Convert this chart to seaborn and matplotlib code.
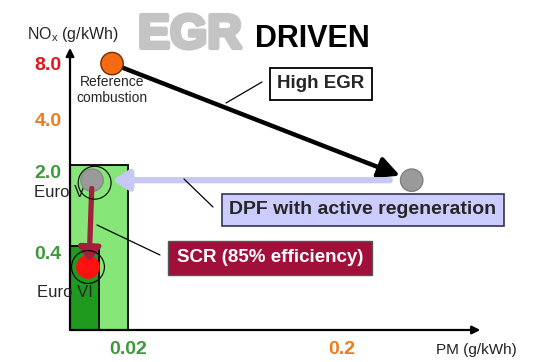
import numpy as np
import pandas as pd
import matplotlib
matplotlib.use("Agg")
import matplotlib.pyplot as plt
import matplotlib.patheffects as pe
from matplotlib.patches import Rectangle
import seaborn as sns

# --- schematic axis knots (value -> position on the sketch) ---
PM_KNOTS = [-0.0241, 0.0, 0.02, 0.2, 0.4]
PM_POS = [0, 70, 128, 342, 550]
NOX_KNOTS = [-0.152, 0.0, 0.4, 2.0, 4.0, 8.0, 12.56]
NOX_POS = [0, 32, 116, 197, 240, 297, 362]

# --- tick labels ---
nox_ticks = [8.0, 4.0, 2.0, 0.4]
nox_tick_labels = ["8.0", "4.0", "2.0", "0.4"]
nox_tick_colors = ["#e8141c", "#ee7a1e", "#3c9a3c", "#3c9a3c"]
pm_ticks = [0.02, 0.2]
pm_tick_labels = ["0.02", "0.2"]
pm_tick_colors = ["#3c9a3c", "#ee7a1e"]

# --- emission points ---
point_names = ["Reference", "High EGR", "Euro V", "Euro VI"]
point_pm = [0.0145, 0.267, 0.0076, 0.0062]
point_nox = [8.1, 1.7, 1.7, 0.3]
point_colors = ["#f26a12", "#9a9a9a", "#9a9a9a", "#ff1010"]
point_edges = ["#7a2a00", "#808080", "#8a8a8a", "#ff1010"]

# --- emission limit boxes (PM limit, NOx limit) ---
limit_names = ["Euro V", "Euro VI"]
limit_pm = [0.02, 0.01]
limit_nox = [2.0, 0.4]
limit_colors = ["#86e678", "#1f9a1f"]

# axis extent
pm_axis_end = 0.333
nox_axis_end = 9.2

df = pd.DataFrame({"name": point_names, "PM": point_pm, "NOx": point_nox})


def fwd_x(v):
    return np.interp(v, PM_KNOTS, PM_POS)


def inv_x(p):
    return np.interp(p, PM_POS, PM_KNOTS)


def fwd_y(v):
    return np.interp(v, NOX_KNOTS, NOX_POS)


def inv_y(p):
    return np.interp(p, NOX_POS, NOX_KNOTS)


sns.set_style("white")
plt.rcParams["font.family"] = ["Liberation Sans", "DejaVu Sans"]
plt.rcParams["mathtext.fontset"] = "custom"
plt.rcParams["mathtext.rm"] = "Liberation Sans"

fig = plt.figure(figsize=(5.5, 3.62), dpi=100)
ax = fig.add_axes([0, 0, 1, 1])
ax.set_xscale("function", functions=(fwd_x, inv_x))
ax.set_yscale("function", functions=(fwd_y, inv_y))
ax.set_xlim(PM_KNOTS[0], PM_KNOTS[-1])
ax.set_ylim(NOX_KNOTS[0], NOX_KNOTS[-1])
ax.axis("off")

# limit boxes
for pm, nox, col in zip(limit_pm, limit_nox, limit_colors):
    ax.add_patch(Rectangle((0, 0), pm, nox, facecolor=col, edgecolor="black",
                           linewidth=1.3, zorder=1))

# axes arrows
ax.annotate("", xy=(0, nox_axis_end), xytext=(0, 0),
            arrowprops=dict(arrowstyle="-|>", color="black", lw=1.6,
                            mutation_scale=12, shrinkA=0, shrinkB=0), zorder=2)
ax.annotate("", xy=(pm_axis_end, 0), xytext=(0, 0),
            arrowprops=dict(arrowstyle="-|>", color="black", lw=1.6,
                            mutation_scale=12, shrinkA=0, shrinkB=0), zorder=2)

# High EGR path
ax.annotate("", xy=(point_pm[1], point_nox[1]), xytext=(point_pm[0], point_nox[0]),
            arrowprops=dict(arrowstyle="-|>,head_length=0.9,head_width=0.45",
                            color="black", lw=3.2, mutation_scale=14,
                            shrinkA=0, shrinkB=9), zorder=3)
# DPF path
ax.annotate("", xy=(point_pm[2] + 0.0069, point_nox[2]), xytext=(0.246, point_nox[1]),
            arrowprops=dict(arrowstyle="-|>,head_length=0.8,head_width=0.5",
                            color="#c8c8f4", lw=4.5, mutation_scale=12,
                            shrinkA=0, shrinkB=0), zorder=3)

# points
sns.scatterplot(data=df, x="PM", y="NOx", hue="name", palette=point_colors,
                s=260, edgecolor=point_edges, linewidth=1.0, legend=False,
                ax=ax, zorder=5)

# SCR path
ax.annotate("", xy=(0.0066, 0.325), xytext=(point_pm[2], point_nox[2]),
            arrowprops=dict(arrowstyle="-|>,head_length=0.7,head_width=0.55",
                            color="#a3203c", lw=3.8, mutation_scale=12,
                            shrinkA=6, shrinkB=0), zorder=6)

# rings around the Euro limits
ax.scatter([0.0085, point_pm[3]], [1.65, point_nox[3]], s=560,
           facecolors="none", edgecolors="black", linewidths=0.8, zorder=6)

# tick labels
for v, lab, col in zip(nox_ticks, nox_tick_labels, nox_tick_colors):
    va = "center" if v >= 4.0 else "top"
    ax.text(48 / 550, v, lab, transform=ax.get_yaxis_transform(), color=col,
            fontsize=14, fontweight="bold", ha="center", va=va)
for v, lab, col in zip(pm_ticks, pm_tick_labels, pm_tick_colors):
    ax.text(v, 12 / 362, lab, transform=ax.get_xaxis_transform(), color=col,
            fontsize=14, fontweight="bold", ha="center", va="center")

# axis titles
ax.text(27 / 550, 1 - 39 / 362, r"NO$_\mathrm{x}$ (g/kWh)", transform=ax.transAxes,
        fontsize=11.5, ha="left", va="baseline")
ax.text(476 / 550, 1 - 350 / 362, "PM (g/kWh)", transform=ax.transAxes,
        fontsize=11, ha="center", va="center", color="#222222")

# title
ax.text(138 / 550, 1 - 48 / 362, "EGR", transform=ax.transAxes, fontsize=34.5,
        fontweight="bold", color="#c4c4c4", ha="left", va="baseline",
        path_effects=[pe.withStroke(linewidth=3, foreground="#c4c4c4")])
ax.text(255 / 550, 1 - 47 / 362, "DRIVEN", transform=ax.transAxes, fontsize=22,
        fontweight="bold", color="black", ha="left", va="baseline")

# annotations
ax.text(112 / 550, 1 - 90 / 362, "Reference\ncombustion", transform=ax.transAxes,
        fontsize=10, ha="center", va="center", linespacing=1.1)
ax.text(34 / 550, 1 - 197 / 362, "Euro V", transform=ax.transAxes,
        fontsize=12, ha="left", va="baseline", zorder=4)
ax.text(37 / 550, 1 - 297 / 362, "Euro VI", transform=ax.transAxes,
        fontsize=12, ha="left", va="baseline", zorder=4)

ax.text(321 / 550, 1 - 84 / 362, "High EGR", transform=ax.transAxes,
        fontsize=13.5, fontweight="bold", ha="center", va="center", zorder=7,
        bbox=dict(boxstyle="square,pad=0.4", facecolor="white",
                  edgecolor="black", linewidth=1.3))
ax.text(363 / 550, 1 - 210 / 362, "DPF with active regeneration",
        transform=ax.transAxes, fontsize=14, fontweight="bold", ha="center",
        va="center", zorder=7,
        bbox=dict(boxstyle="square,pad=0.4", facecolor="#ccccff",
                  edgecolor="#333355", linewidth=1.2))
ax.text(270 / 550, 1 - 258 / 362, "SCR (85% efficiency)", transform=ax.transAxes,
        fontsize=13.5, fontweight="bold", color="white", ha="center",
        va="center", zorder=7,
        bbox=dict(boxstyle="square,pad=0.45", facecolor="#a0103a",
                  edgecolor="#555555", linewidth=1.0))

# leader lines
leaders = [((262, 82), (226, 103)), ((184, 179), (213, 207)), ((97, 225), (160, 255))]
for (x0, y0), (x1, y1) in leaders:
    ax.plot([x0 / 550, x1 / 550], [1 - y0 / 362, 1 - y1 / 362], color="black",
            lw=0.9, transform=ax.transAxes, zorder=6)

fig.savefig("out.png", dpi=100)
